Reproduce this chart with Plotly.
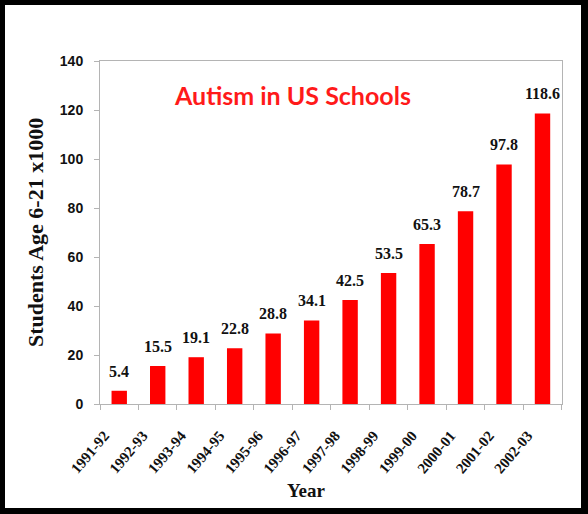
import plotly.graph_objects as go

years = ["1991-92", "1992-93", "1993-94", "1994-95", "1995-96", "1996-97",
         "1997-98", "1998-99", "1999-00", "2000-01", "2001-02", "2002-03"]
students = [5.4, 15.5, 19.1, 22.8, 28.8, 34.1, 42.5, 53.5, 65.3, 78.7, 97.8, 118.6]
y_ticks = [0, 20, 40, 60, 80, 100, 120, 140]

W, H = 588, 514
L, R, T, B = 100, 562, 61, 404  # plot area in pixels

def px_x(p):
    return (p - L) / (R - L)

def px_y(p):
    return (B - p) / (B - T)

fig = go.Figure()
fig.add_trace(go.Bar(x=years, y=students, marker=dict(color="#ff0000", line=dict(width=0)),
                     showlegend=False, hoverinfo="x+y"))

for yr, v in zip(years, students):
    fig.add_annotation(x=yr, y=v, text=f"{v:g}", showarrow=False, yanchor="bottom",
                       yshift=9, font=dict(family="Liberation Serif", size=16, color="#111", weight="bold"))

fig.add_annotation(xref="paper", yref="paper", x=px_x(292), y=px_y(95), text="Autism in US Schools",
                   showarrow=False, xanchor="center", yanchor="middle",
                   font=dict(family="Comic Sans MS, Lato", size=25, color="#ff1a1a", weight="bold"))

fig.add_annotation(xref="paper", yref="paper", x=px_x(35), y=px_y(233), text="Students Age 6-21 x1000",
                   showarrow=False, textangle=-90, xanchor="center", yanchor="middle",
                   font=dict(family="Liberation Serif", size=22, color="#111", weight="bold"))

fig.add_annotation(xref="paper", yref="paper", x=px_x(306), y=px_y(490), text="Year",
                   showarrow=False, xanchor="center", yanchor="middle",
                   font=dict(family="Liberation Serif", size=19, color="#111", weight="bold"))

# black frame with white interior
fig.add_shape(type="rect", xref="paper", yref="paper", layer="below",
              x0=px_x(5), x1=px_x(581), y0=px_y(508), y1=px_y(5),
              fillcolor="white", line=dict(width=0))

fig.update_layout(
    width=W, height=H,
    margin=dict(l=L, r=W - R, t=T, b=H - B, pad=0),
    paper_bgcolor="black", plot_bgcolor="white",
    bargap=0.6,
    xaxis=dict(type="category", showline=True, mirror=True, linecolor="#b4b4b4", linewidth=1,
               ticks="outside", ticklen=5, tickcolor="#b4b4b4", tickson="boundaries",
               tickangle=-50, ticklabelshift=-15, ticklabelstandoff=16,
               tickfont=dict(family="Liberation Serif", size=15, color="#111", weight="bold"),
               showgrid=False),
    yaxis=dict(range=[0, 140], tickvals=y_ticks, showline=True, mirror=True, linecolor="#b4b4b4",
               linewidth=1, ticks="outside", ticklen=5, tickcolor="#b4b4b4", ticklabelstandoff=8,
               tickfont=dict(family="Liberation Sans", size=14, color="#111", weight="bold"),
               showgrid=False, zeroline=False),
)

fig.write_html("out.html")
